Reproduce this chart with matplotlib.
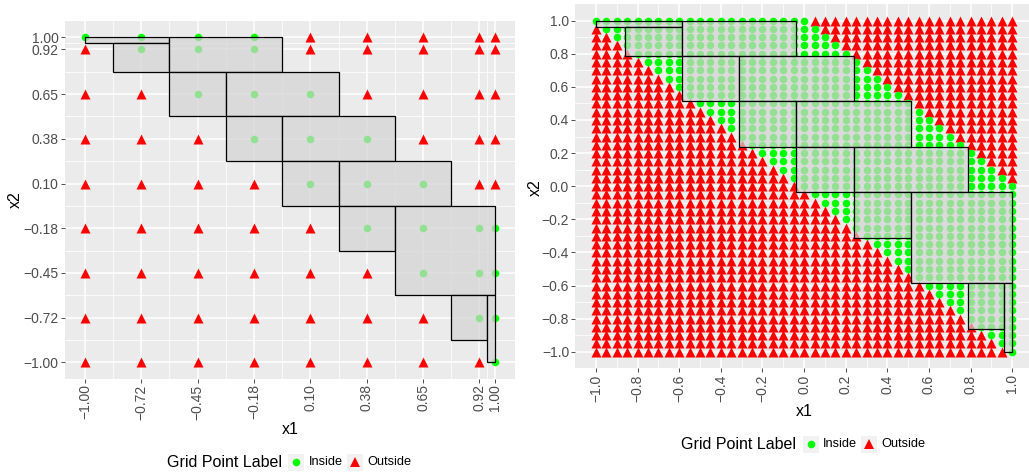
import matplotlib
matplotlib.use("Agg")
import matplotlib.pyplot as plt
from matplotlib.patches import Rectangle
from matplotlib.lines import Line2D

plt.rcParams['font.family'] = ['Liberation Sans', 'DejaVu Sans']

W, H = 1029, 476

# left panel: coarse grid
coarse_vals = [-1.0, -0.725, -0.45, -0.175, 0.1, 0.375, 0.65, 0.925, 1.0]
coarse_labels = ["−1.00", "−0.72", "−0.45", "−0.18", "0.10", "0.38", "0.65", "0.92", "1.00"]
# 1 = Inside; rows go from x2 = 1.00 down to x2 = -1.00
coarse_inside = [
    [1, 1, 1, 1, 0, 0, 0, 0, 0],
    [0, 1, 1, 1, 0, 0, 0, 0, 0],
    [0, 0, 1, 1, 1, 0, 0, 0, 0],
    [0, 0, 0, 1, 1, 1, 0, 0, 0],
    [0, 0, 0, 0, 1, 1, 1, 0, 0],
    [0, 0, 0, 0, 0, 1, 1, 1, 1],
    [0, 0, 0, 0, 0, 0, 1, 1, 1],
    [0, 0, 0, 0, 0, 0, 0, 1, 1],
    [0, 0, 0, 0, 0, 0, 0, 0, 1],
]

# right panel: fine grid
fine_vals = [-1.0, -0.95, -0.9, -0.85, -0.8, -0.75, -0.7, -0.65, -0.6, -0.55,
             -0.5, -0.45, -0.4, -0.35, -0.3, -0.25, -0.2, -0.15, -0.1, -0.05,
             0.0, 0.05, 0.1, 0.15, 0.2, 0.25, 0.3, 0.35, 0.4, 0.45,
             0.5, 0.55, 0.6, 0.65, 0.7, 0.75, 0.8, 0.85, 0.9, 0.95, 1.0]
# first / last inside x1 for each row, rows from x2 = 1.0 down to x2 = -1.0
fine_lo = [-1.0, -0.95, -0.9, -0.85, -0.8, -0.75, -0.7, -0.65, -0.6, -0.55,
           -0.5, -0.45, -0.4, -0.35, -0.3, -0.25, -0.2, -0.15, -0.1, -0.05,
           0.0, 0.05, 0.1, 0.15, 0.2, 0.25, 0.3, 0.35, 0.4, 0.45,
           0.5, 0.55, 0.6, 0.65, 0.7, 0.75, 0.8, 0.85, 0.9, 0.95, 1.0]
fine_hi = [0.0, 0.05, 0.1, 0.15, 0.2, 0.25, 0.3, 0.35, 0.4, 0.45,
           0.5, 0.55, 0.6, 0.65, 0.7, 0.75, 0.8, 0.85, 0.9, 0.95,
           1.0, 1.0, 1.0, 1.0, 1.0, 1.0, 1.0, 1.0, 1.0, 1.0,
           1.0, 1.0, 1.0, 1.0, 1.0, 1.0, 1.0, 1.0, 1.0, 1.0, 1.0]
fine_ticks = [-1.0, -0.8, -0.6, -0.4, -0.2, 0.0, 0.2, 0.4, 0.6, 0.8, 1.0]
fine_labels = ["−1.0", "−0.8", "−0.6", "−0.4", "−0.2", "0.0", "0.2", "0.4", "0.6", "0.8", "1.0"]

# boxes (same in both panels)
box_x1_lo = [-1.0, -0.8625, -0.5875, -0.5875, -0.3125, -0.3125, -0.0375, -0.0375, 0.2375, 0.2375, 0.5125, 0.7875, 0.9625]
box_x1_hi = [-0.5875, -0.5875, -0.0375, -0.3125, 0.2375, -0.0375, 0.5125, 0.2375, 0.7875, 0.5125, 1.0, 0.9625, 1.0]
box_x2_lo = [0.9625, 0.7875, 0.7875, 0.5125, 0.5125, 0.2375, 0.2375, -0.0375, -0.0375, -0.3125, -0.5875, -0.8625, -1.0]
box_x2_hi = [1.0, 0.9625, 1.0, 0.7875, 0.7875, 0.5125, 0.5125, 0.2375, 0.2375, -0.0375, -0.0375, -0.5875, -0.5875]

GREEN = '#00FF00'
RED = '#FF0000'
DOT_S = 30
TRI_S = 52


def fx(px):
    return px / W


def fy(py):
    return 1 - py / H


def draw_panel(ax, xin, yin, xout, yout, ticks, labels):
    ax.set_facecolor('#EBEBEB')
    for s in ax.spines.values():
        s.set_visible(False)
    ax.set_xlim(-1.1, 1.1)
    ax.set_ylim(-1.1, 1.1)
    minor = [(a + b) / 2 for a, b in zip(ticks[:-1], ticks[1:])]
    ax.set_xticks(ticks)
    ax.set_xticklabels(labels, rotation=90)
    ax.set_yticks(ticks)
    ax.set_yticklabels(labels)
    ax.set_xticks(minor, minor=True)
    ax.set_yticks(minor, minor=True)
    ax.set_axisbelow(True)
    ax.grid(which='major', color='white', lw=1.1)
    ax.grid(which='minor', color='white', lw=0.55)
    ax.tick_params(which='major', length=2.8, width=0.6, color='#333333',
                   labelcolor='#4D4D4D', labelsize=10, pad=1.5)
    ax.tick_params(which='minor', length=0)
    ax.scatter(xout, yout, marker='^', s=TRI_S, color=RED, linewidths=0, zorder=2)
    ax.scatter(xin, yin, marker='o', s=DOT_S, color=GREEN, linewidths=0, zorder=2)
    for x0, x1, y0, y1 in zip(box_x1_lo, box_x1_hi, box_x2_lo, box_x2_hi):
        ax.add_patch(Rectangle((x0, y0), x1 - x0, y1 - y0,
                               facecolor=(0.827, 0.827, 0.827, 0.7),
                               edgecolor='black', lw=0.9, zorder=3))


def draw_legend(fig, x_title, yc, x_key1, x_in, x_key2, x_out):
    fig.text(fx(x_title), fy(yc), "Grid Point Label", fontsize=11.5,
             ha='left', va='center')
    for xk, mk, col, ms in [(x_key1, 'o', GREEN, 5.5), (x_key2, '^', RED, 7)]:
        fig.add_artist(Rectangle((fx(xk), fy(yc + 8.5)), 16 / W, 17 / H,
                                 transform=fig.transFigure,
                                 facecolor='#F2F2F2', edgecolor='none'))
        fig.add_artist(Line2D([fx(xk + 8)], [fy(yc)], marker=mk, color=col,
                              markersize=ms, markeredgewidth=0, linestyle='none',
                              transform=fig.transFigure))
    fig.text(fx(x_in), fy(yc), "Inside", fontsize=9.2, ha='left', va='center')
    fig.text(fx(x_out), fy(yc), "Outside", fontsize=9.2, ha='left', va='center')


fig = plt.figure(figsize=(W / 100, H / 100), dpi=100)

# left panel
ax1 = fig.add_axes([fx(64.5), fy(378.5), (515.2 - 64.5) / W, (378.5 - 21.0) / H])
xin, yin, xout, yout = [], [], [], []
for yv, flags in zip(coarse_vals[::-1], coarse_inside):
    for xv, f in zip(coarse_vals, flags):
        if f:
            xin.append(xv)
            yin.append(yv)
        else:
            xout.append(xv)
            yout.append(yv)
draw_panel(ax1, xin, yin, xout, yout, coarse_vals, coarse_labels)

# right panel
ax2 = fig.add_axes([fx(575.2), fy(368.3), (1033.0 - 575.2) / W, (368.3 - 4.1) / H])
xin, yin, xout, yout = [], [], [], []
for yv, lo, hi in zip(fine_vals[::-1], fine_lo, fine_hi):
    for xv in fine_vals:
        if lo - 1e-9 <= xv <= hi + 1e-9:
            xin.append(xv)
            yin.append(yv)
        else:
            xout.append(xv)
            yout.append(yv)
draw_panel(ax2, xin, yin, xout, yout, fine_ticks, fine_labels)

# axis titles
fig.text(fx(15), fy(200), "x2", fontsize=11.5, rotation=90, ha='center', va='center')
fig.text(fx(289.9), fy(430), "x1", fontsize=11.5, ha='center', va='center')
fig.text(fx(535), fy(188), "x2", fontsize=11.5, rotation=90, ha='center', va='center')
fig.text(fx(804), fy(411.7), "x1", fontsize=11.5, ha='center', va='center')

# legends
draw_legend(fig, 166.7, 462.3, 288, 309, 347, 367)
draw_legend(fig, 681.3, 444.3, 803, 823, 861, 881)

fig.savefig("out.png", dpi=100)
